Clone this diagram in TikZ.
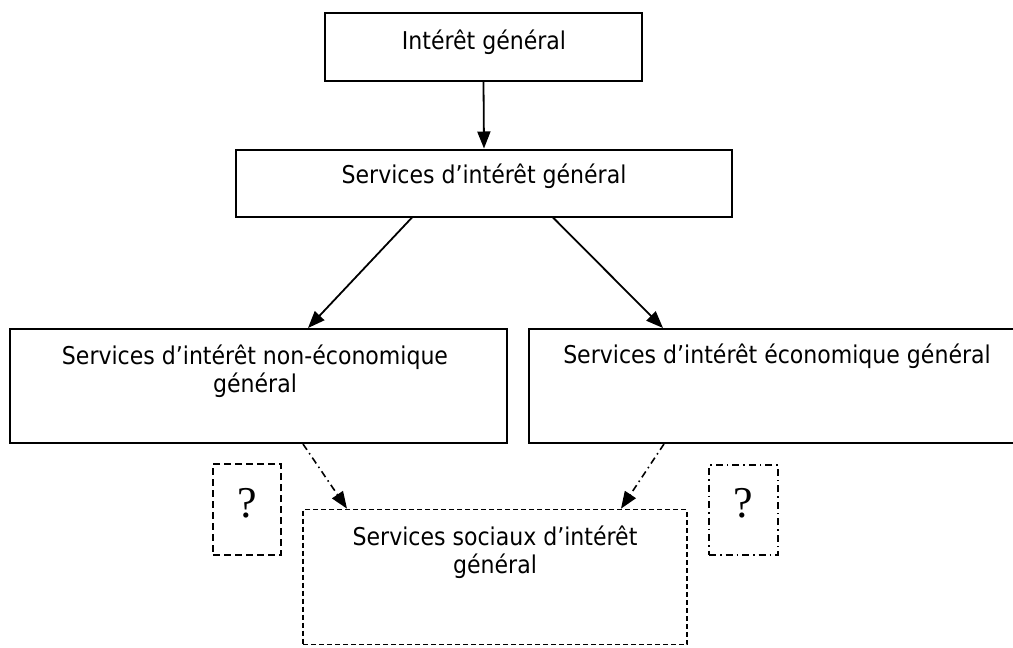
\documentclass[tikz,border=0pt]{standalone}
\usepackage{fontspec}
\setmainfont{DejaVu Sans Condensed}
\newfontfamily\qfont{Liberation Serif}
\usetikzlibrary{arrows.meta}
\begin{document}
\begin{tikzpicture}[x=1pt,y=-1pt,
  box/.style={draw=black,line width=2pt,inner sep=0pt,rectangle},
  txt/.style={inner sep=0pt,anchor=base,align=center,font=\fontsize{24.5}{28}\selectfont},
  qtxt/.style={inner sep=0pt,anchor=base,font=\qfont\fontsize{44}{44}\selectfont},
  arr/.style={line width=1.8pt,-{Triangle[length=17pt,width=13pt]}},
  darr/.style={line width=1.6pt,dash pattern=on 7pt off 4pt on 1.5pt off 4pt,-{Triangle[length=17pt,width=13pt]}}
]
\useasboundingbox (0,0) rectangle (1013,648);
\fill[white] (0,0) rectangle (1013,648);
% boxes
\node[box,minimum width=317pt,minimum height=68pt] (top) at (483.5,47) {};
\node[box,minimum width=496pt,minimum height=67pt] (mid) at (484,183) {};
\node[box,minimum width=497pt,minimum height=114pt] (left) at (258.5,386) {};
\node[box,minimum width=496pt,minimum height=114pt] (right) at (777,386) {};
\node[box,line width=1.7pt,dash pattern=on 5pt off 3pt,minimum width=384pt,minimum height=135pt] (bot) at (495,577) {};
\node[box,line width=1.8pt,dash pattern=on 7pt off 4pt,minimum width=68pt,minimum height=91pt] (q1) at (247,509.5) {};
\node[box,line width=1.8pt,dash pattern=on 7pt off 4pt on 1.5pt off 4pt,minimum width=69pt,minimum height=90pt] (q2) at (743.5,510) {};
% texts
\node[txt] (ttop) at (484,49) {Intérêt général};
\node[txt] (tmid) at (484,183) {Services d’intérêt général};
\node[txt] (tleft) at (255,392) {Services d’intérêt non-économique\\général};
\node[txt] (tright) at (777,363) {Services d’intérêt économique général};
\node[txt] (tbot) at (495,573) {Services sociaux d’intérêt\\général};
\node[qtxt] (tq1) at (247,517) {?};
\node[qtxt] (tq2) at (743.5,517) {?};
% connectors
\draw[arr] (top.south) -- (mid.north);
\draw[arr] ([xshift=-72pt]mid.south) -- ([xshift=49.5pt]left.north);
\draw[arr] ([xshift=69pt]mid.south) -- ([xshift=-114pt]right.north);
\draw[darr] ([xshift=44.5pt]left.south) -- ([xshift=-148pt]bot.north);
\draw[darr] ([xshift=-113pt]right.south) -- ([xshift=126pt]bot.north);
\end{tikzpicture}
\end{document}
